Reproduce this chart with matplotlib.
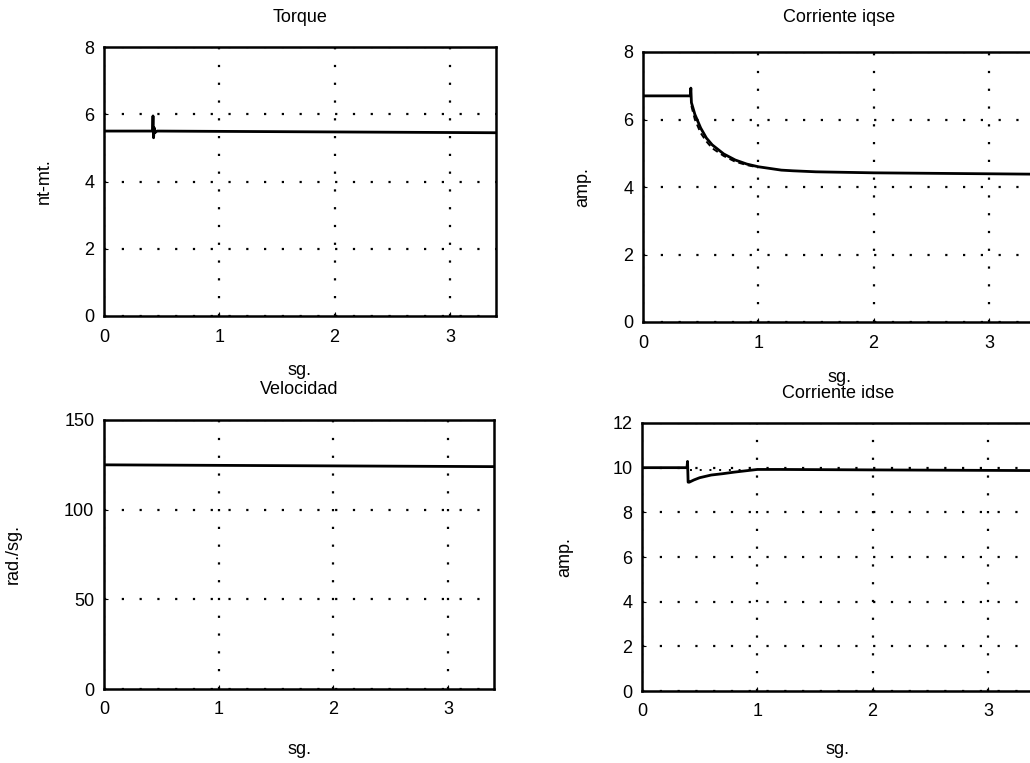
import matplotlib
matplotlib.use('Agg')
import matplotlib.pyplot as plt
import numpy as np

plt.rcParams['font.family'] = ['Liberation Sans', 'DejaVu Sans']

# --- data ---
torque_t = [0, 0.42, 0.425, 0.43, 0.435, 0.44, 0.46, 3.4]
torque = [5.5, 5.5, 5.95, 5.3, 5.6, 5.45, 5.5, 5.45]

iqse_t = [0, 0.41, 0.415, 0.42, 0.45, 0.5, 0.55, 0.6, 0.7, 0.8, 0.9,
          1.0, 1.1, 1.2, 1.3, 1.5, 2.0, 3.4]
iqse = [6.7, 6.7, 6.93, 6.5, 6.15, 5.75, 5.45, 5.25, 4.98, 4.8, 4.68,
        4.6, 4.55, 4.5, 4.48, 4.45, 4.42, 4.38]
iqse_ref_t = [0.42, 0.45, 0.5, 0.55, 0.6, 0.7, 0.8, 0.9, 1.0]
iqse_ref = [6.4, 6.0, 5.6, 5.35, 5.15, 4.92, 4.75, 4.65, 4.58]

vel_t = [0, 3.4]
vel = [125, 124]

idse_t = [0, 0.39, 0.395, 0.40, 0.41, 0.45, 0.5, 0.6, 0.7, 0.8, 0.9,
          1.0, 1.2, 2.0, 3.4]
idse = [10.0, 10.0, 10.28, 9.35, 9.35, 9.45, 9.55, 9.67, 9.73, 9.8, 9.86,
        9.92, 9.92, 9.9, 9.87]
idse_ref_t = [0.42, 1.0]
idse_ref = [9.9, 9.9]

W, H = 1030, 763
fig = plt.figure(figsize=(W / 100, H / 100), dpi=100)


def setup(left, top, right, bottom, title, ylabel, ylim, ystep,
          ylab_px, title_px, xlab_px):
    # box given in pixels from top-left of the picture
    w, h = right - left, bottom - top
    ax = fig.add_axes([left / W, 1 - bottom / H, w / W, h / H])
    ax.set_xlim(0, 3.4)
    ax.set_ylim(*ylim)
    ax.set_xticks([0, 1, 2, 3])
    ax.set_yticks(np.arange(ylim[0], ylim[1] + 0.1, ystep))
    ax.grid(True, color='black', linestyle=(0, (1, 7)), linewidth=1.6)
    ax.tick_params(direction='in', length=3, labelsize=13)
    ax.tick_params(axis='x', pad=9)
    ax.tick_params(axis='y', pad=7)
    for s in ax.spines.values():
        s.set_linewidth(1.8)
    ax.text(0.5, 1 + title_px / h, title, transform=ax.transAxes,
            ha='center', va='center', fontsize=13)
    ax.set_ylabel(ylabel, fontsize=13)
    ax.yaxis.set_label_coords(-ylab_px / w, 0.5)
    ax.set_xlabel('sg.', fontsize=13)
    ax.xaxis.set_label_coords(0.5, -xlab_px / h)
    return ax


ax1 = setup(104, 47, 496, 316, 'Torque', 'nt-mt.', (0, 8), 2, 51, 29, 46)
ax1.plot(torque_t, torque, color='black', linewidth=2)

ax2 = setup(643, 52, 1035, 322, 'Corriente iqse', 'amp.', (0, 8), 2,
            52, 34, 47)
ax2.plot(iqse_t, iqse, color='black', linewidth=2)
ax2.plot(iqse_ref_t, iqse_ref, color='black', linewidth=1.4,
         linestyle=(0, (3, 2)))

ax3 = setup(104, 420, 494, 689, 'Velocidad', 'rad./sg.', (0, 150), 50,
            82, 31, 52)
ax3.plot(vel_t, vel, color='black', linewidth=2)

ax4 = setup(642, 423, 1034, 691, 'Corriente idse', 'amp.', (0, 12), 2,
            69, 29, 50)
ax4.plot(idse_t, idse, color='black', linewidth=2)
ax4.plot(idse_ref_t, idse_ref, color='black', linewidth=1.4,
         linestyle=(0, (1, 4)))

fig.savefig('out.png', dpi=100)
